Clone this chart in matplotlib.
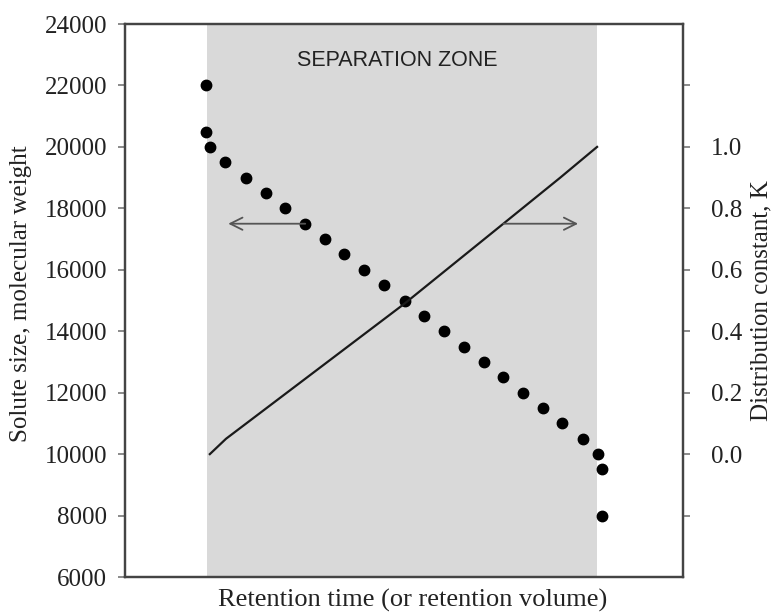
import matplotlib
matplotlib.use("Agg")
import matplotlib.pyplot as plt

## Data (x in arbitrary retention units, 0-100)
dotX = [14.5, 14.5, 15.2, 18.0, 21.6, 25.2, 28.7, 32.3, 35.8, 39.3, 42.9, 46.5, 50.1,
        53.5, 57.2, 60.7, 64.3, 67.8, 71.3, 74.9, 78.4, 82.0, 84.8, 85.5, 85.5]
dotMW = [22000, 20500, 20000, 19500, 19000, 18500, 18000, 17500, 17000, 16500, 16000,
         15500, 15000, 14500, 14000, 13500, 13000, 12500, 12000, 11500, 11000, 10500,
         10000, 9500, 8000]

lineX = [15.2, 18.1, 50.1, 67.8, 78.0, 84.6]
lineK = [0.0, 0.05, 0.49, 0.75, 0.90, 1.0]

zoneStart, zoneEnd = 14.7, 84.6

leftTicks = [6000, 8000, 10000, 12000, 14000, 16000, 18000, 20000, 22000, 24000]
rightTicks = [-0.2, 0.0, 0.2, 0.4, 0.6, 0.8, 1.0, 1.2]
rightLabels = ["", "0.0", "0.2", "0.4", "0.6", "0.8", "1.0", ""]

## Style
spineColor = "#444444"
zoneColor = "#d9d9d9"
textColor = "#222222"
serif = "Liberation Serif"
labelSize = 18
tickSize = 18

fig = plt.figure(figsize=(7.78, 6.16), dpi=100)
ax1 = fig.add_axes([0.1607, 0.0633, 0.7172, 0.8977])
ax2 = ax1.twinx()

ax1.axvspan(zoneStart, zoneEnd, color=zoneColor, lw=0, zorder=0)
ax1.plot(dotX, dotMW, "o", color="black", ms=7.5, zorder=3)
ax2.plot(lineX, lineK, color="#1a1a1a", lw=1.6)

# arrows pointing to each axis
ax1.annotate("", xy=(18.5, 17500), xytext=(32.3, 17500),
             arrowprops=dict(arrowstyle="->", color="#555555", lw=1.3,
                             mutation_scale=22, shrinkA=0, shrinkB=0))
ax2.annotate("", xy=(81.2, 0.75), xytext=(67.8, 0.75),
             arrowprops=dict(arrowstyle="->", color="#555555", lw=1.3,
                             mutation_scale=22, shrinkA=0, shrinkB=0))

ax1.text(48.7, 22800, "SEPARATION ZONE", ha="center", va="center",
         family="Liberation Sans", fontsize=15.5, color=textColor)

ax1.set_xlim(0, 100)
ax1.set_ylim(6000, 24000)
ax2.set_ylim(-0.4, 1.4)

ax1.set_xticks([])
ax1.set_yticks(leftTicks)
ax1.set_yticklabels([str(t) for t in leftTicks], family=serif, fontsize=tickSize)
ax2.set_yticks(rightTicks)
ax2.set_yticklabels(rightLabels, family=serif, fontsize=tickSize)

for ax in (ax1, ax2):
    for s in ax.spines.values():
        s.set_color(spineColor)
        s.set_linewidth(1.6)
    ax.tick_params(axis="y", direction="out", length=5, width=1.2,
                   color="#777777", labelcolor=textColor)
ax1.tick_params(axis="y", pad=8)
ax2.tick_params(axis="y", pad=15)

ax1.set_ylabel("Solute size, molecular weight", family=serif, fontsize=labelSize,
               color=textColor, va="center")
ax1.yaxis.set_label_coords(-0.187, 0.513)
ax2.set_ylabel("Distribution constant, K", family=serif, fontsize=labelSize,
               color=textColor, va="center")
ax2.yaxis.set_label_coords(1.14, 0.5)
ax1.set_xlabel("Retention time (or retention volume)", family=serif,
               fontsize=19, color=textColor, va="center")
ax1.xaxis.set_label_coords(0.516, -0.042)

fig.savefig("out.png", dpi=100)
